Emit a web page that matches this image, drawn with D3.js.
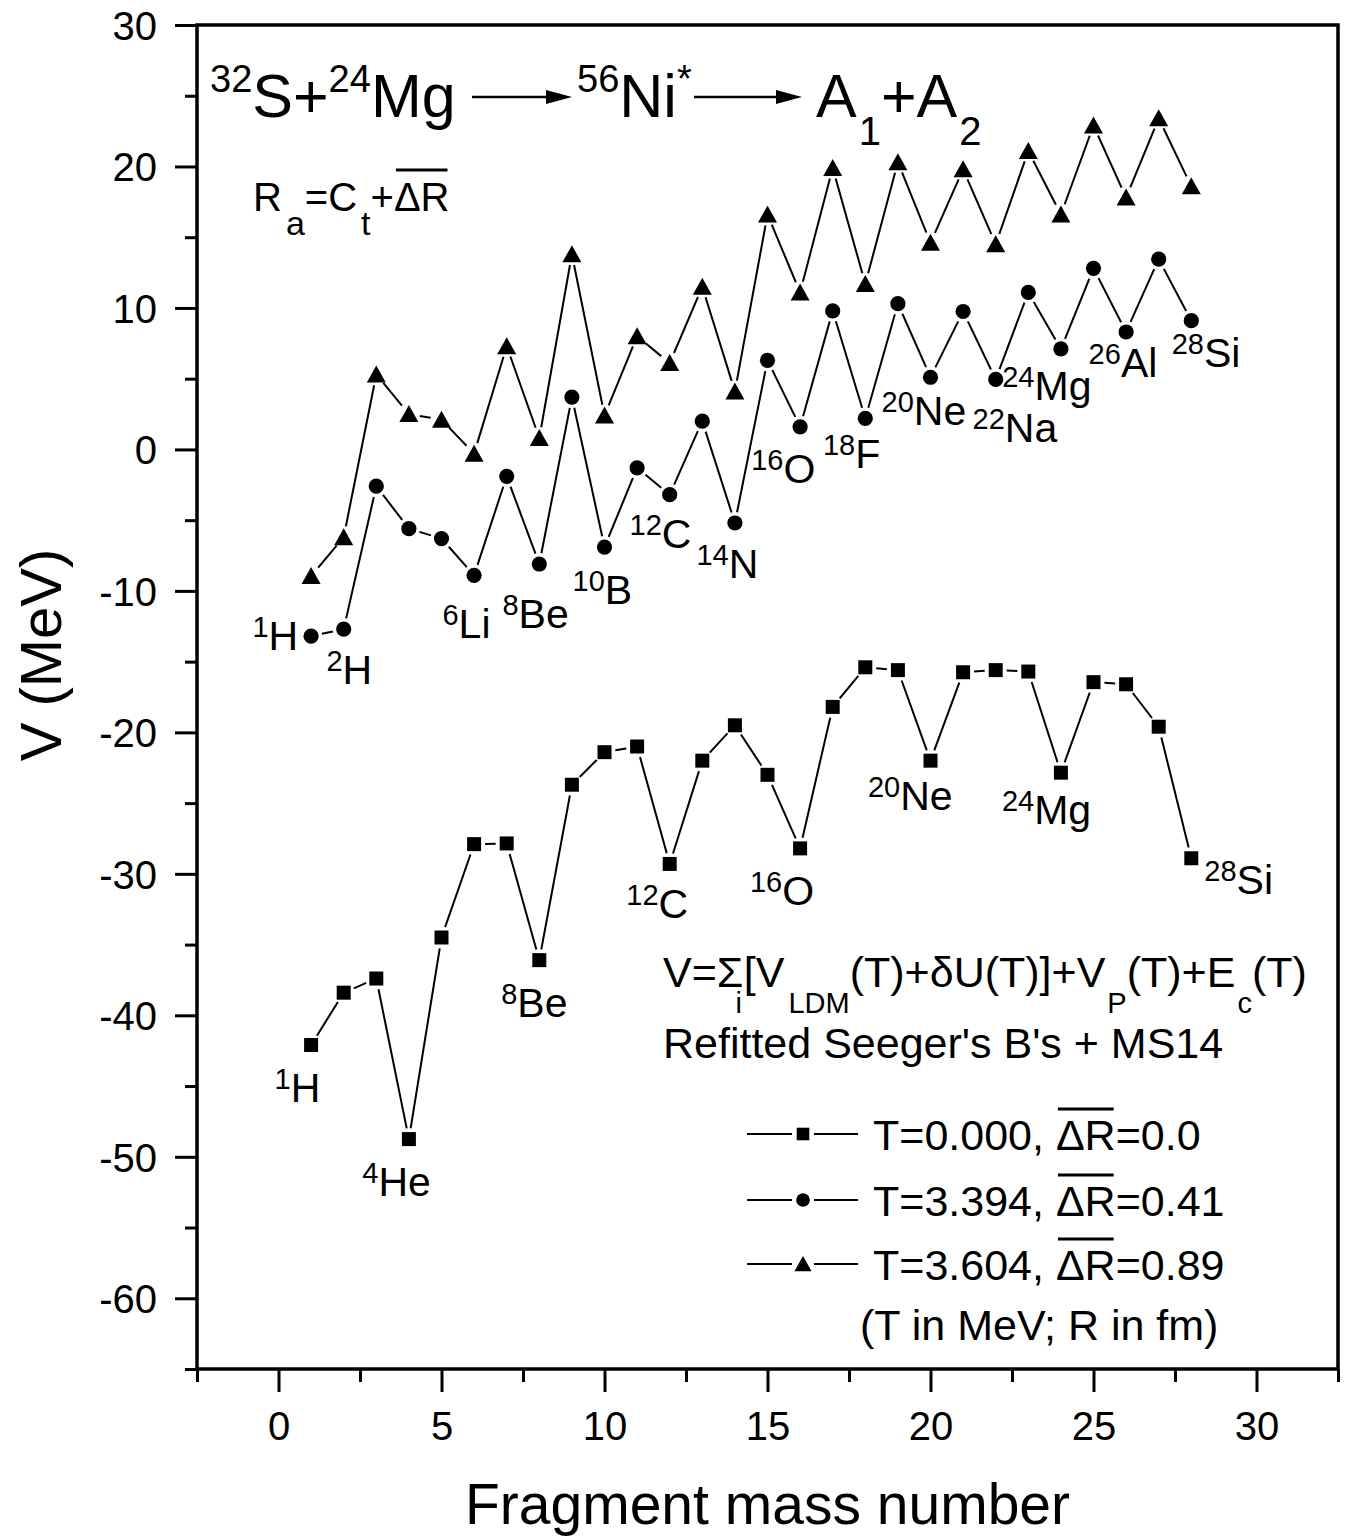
<!DOCTYPE html>
<html><head><meta charset="utf-8">
<script src="https://cdn.jsdelivr.net/npm/d3@7"></script>
<style>
body{margin:0;background:#fff}
svg{display:block}
text{font-family:"Liberation Sans",Arial,Helvetica,sans-serif;fill:#000}
</style>
</head><body>
<svg id="chart" width="1348" height="1540"></svg>
<script>
// ---------------- DATA ----------------
const massNumbers = [1,2,3,4,5,6,7,8,9,10,11,12,13,14,15,16,17,18,19,20,21,22,23,24,25,26,27,28];
// T = 0.000 MeV, mean dR = 0.0 fm (squares)
const vT0000 = [-42.1,-38.4,-37.4,-48.75,-34.5,-27.9,-27.85,-36.1,-23.7,-21.4,-21.0,-29.3,-22.0,-19.5,
                -23.0,-28.2,-18.2,-15.4,-15.6,-22.0,-15.75,-15.6,-15.7,-22.85,-16.45,-16.6,-19.6,-28.9];
// T = 3.394 MeV, mean dR = 0.41 fm (circles)
const vT3394 = [-13.2,-12.7,-2.6,-5.6,-6.3,-8.9,-1.9,-8.1,3.7,-6.9,-1.3,-3.2,2.0,-5.2,
                6.3,1.6,9.8,2.2,10.3,5.1,9.75,4.95,11.1,7.1,12.8,8.3,13.45,9.1];
// T = 3.604 MeV, mean dR = 0.89 fm (triangles)
const vT3604 = [-8.95,-6.2,5.3,2.5,2.1,-0.3,7.3,0.8,13.8,2.4,8.0,6.1,11.5,4.1,
                16.6,11.1,19.9,11.7,20.3,14.6,19.8,14.5,21.1,16.6,22.9,17.8,23.4,18.6];
const seriesLabels = ["T=0.000, ", "T=3.394, ", "T=3.604, "];
const seriesDR = ["=0.0", "=0.41", "=0.89"];
const seriesSymbols = ["square", "circle", "triangle"];
const xMajorTicks = [0,5,10,15,20,25,30];
const xMinorTicks = [-2.5,2.5,7.5,12.5,17.5,22.5,27.5,32.5];
const yMajorTicks = [-60,-50,-40,-30,-20,-10,0,10,20,30];
const yMinorTicks = [-65,-55,-45,-35,-25,-15,-5,5,15,25];
const xTitle = "Fragment mass number";
const yTitle = "V (MeV)";
// isotope annotations (superscript, element) anchored in data units
const upperLabels = [
  ["1","H",-0.8,-14.2],["2","H",1.47,-16.6],["6","Li",5.03,-13.3],["8","Be",6.87,-12.6],
  ["10","B",9.02,-10.9],["12","C",10.77,-7.0],["14","N",12.82,-9.1],["16","O",14.5,-2.4],
  ["18","F",16.7,-1.3],["20","Ne",18.5,1.7],["22","Na",21.29,0.5],["24","Mg",22.2,3.5],
  ["26","Al",24.85,5.1],["28","Si",27.4,5.8]
];
const lowerLabels = [
  ["1","H",-0.12,-46.1],["4","He",2.57,-52.8],["8","Be",6.83,-40.1],["12","C",10.67,-33.1],
  ["16","O",14.46,-32.2],["20","Ne",18.08,-25.5],["24","Mg",22.19,-26.5],["28","Si",28.4,-31.4]
];

// ---------------- LAYOUT ----------------
const svg = d3.select("#chart");
const L = 197, R = 1338, T = 25, B = 1369;
const x = d3.scaleLinear().domain([-2.5, 32.5]).range([L, R]);
const y = d3.scaleLinear().domain([-65, 30]).range([B, T]);
const fmt = d => String(d);

// axes
const gx = svg.append("g").attr("transform", `translate(0,${B})`)
  .call(d3.axisBottom(x).tickValues(xMajorTicks).tickSize(23).tickPadding(20).tickFormat(fmt));
const gxm = svg.append("g").attr("transform", `translate(0,${B})`)
  .call(d3.axisBottom(x).tickValues(xMinorTicks).tickSize(13).tickFormat(""));
const gy = svg.append("g").attr("transform", `translate(${L},0)`)
  .call(d3.axisLeft(y).tickValues(yMajorTicks).tickSize(22).tickPadding(18).tickFormat(fmt));
const gym = svg.append("g").attr("transform", `translate(${L},0)`)
  .call(d3.axisLeft(y).tickValues(yMinorTicks).tickSize(12).tickFormat(""));
[gx,gxm,gy,gym].forEach(g => {
  g.select(".domain").remove();
  g.selectAll(".tick line").attr("stroke","#000").attr("stroke-width",3);
  g.selectAll(".tick text").attr("font-size",40).attr("font-family","'Liberation Sans',Arial,sans-serif").attr("fill","#000");
});
gx.selectAll(".tick text").attr("dy","0.71em");
gy.selectAll(".tick text").attr("dy","0.36em");

svg.append("rect").attr("x",L).attr("y",T).attr("width",R-L).attr("height",B-T)
  .attr("fill","none").attr("stroke","#000").attr("stroke-width",3.5);

// axis titles
svg.append("text").attr("x",(L+R)/2).attr("y",1524).attr("text-anchor","middle")
  .attr("font-size",57).text(xTitle);
svg.append("text").attr("transform","translate(61,655) rotate(-90)").attr("text-anchor","middle")
  .attr("font-size",58).text(yTitle);

// ---------------- SERIES ----------------
const GAP = 11;
const lineGen = d3.line();
function symbolPath(kind){
  if(kind==="square") return "M-7,-7H7V7H-7Z";
  if(kind==="circle") return d3.symbol(d3.symbolCircle, Math.PI*7.6*7.6)();
  return "M0,-9L9.5,8L-9.5,8Z";
}
function drawSeries(values, kind){
  const g = svg.append("g");
  const pts = massNumbers.map((m,i)=>[x(m), y(values[i])]);
  const segs = [];
  for(let i=0;i<pts.length-1;i++){
    const [x0,y0]=pts[i],[x1,y1]=pts[i+1];
    const dx=x1-x0, dy=y1-y0, len=Math.hypot(dx,dy);
    if(len<=2*GAP+1) continue;
    const ux=dx/len, uy=dy/len;
    segs.push([[x0+ux*GAP,y0+uy*GAP],[x1-ux*GAP,y1-uy*GAP]]);
  }
  g.selectAll("path.seg").data(segs).join("path").attr("class","seg")
    .attr("d",lineGen).attr("fill","none").attr("stroke","#000").attr("stroke-width",2);
  g.selectAll("path.mk").data(pts).join("path").attr("class","mk")
    .attr("transform",d=>`translate(${d[0]},${d[1]})`).attr("d",symbolPath(kind)).attr("fill","#000");
}
drawSeries(vT0000,"square");
drawSeries(vT3394,"circle");
drawSeries(vT3604,"triangle");

// ---------------- ANNOTATIONS ----------------
function isotope(lab){
  const t = svg.append("text").attr("x",x(lab[2])).attr("y",y(lab[3])).attr("font-size",41);
  t.append("tspan").attr("font-size",29).attr("dy",-13).text(lab[0]);
  t.append("tspan").attr("font-size",41).attr("dy",13).text(lab[1]);
}
upperLabels.forEach(isotope);
lowerLabels.forEach(isotope);

// reaction title
function arrow(x0,x1,yy){
  svg.append("line").attr("x1",x0).attr("x2",x1-18).attr("y1",yy).attr("y2",yy).attr("stroke","#000").attr("stroke-width",2.5);
  svg.append("path").attr("d",`M${x1},${yy}L${x1-26},${yy-7}L${x1-26},${yy+7}Z`).attr("fill","#000");
}
{
  const t = svg.append("text").attr("x",210).attr("y",117).attr("font-size",61);
  t.append("tspan").attr("font-size",38).attr("dy",-25).text("32");
  t.append("tspan").attr("dy",25).text("S+");
  t.append("tspan").attr("font-size",38).attr("dy",-25).text("24");
  t.append("tspan").attr("dy",25).text("Mg");
  arrow(472,572,97);
  const t2 = svg.append("text").attr("x",577).attr("y",117).attr("font-size",61);
  t2.append("tspan").attr("font-size",38).attr("dy",-25).text("56");
  t2.append("tspan").attr("dy",25).text("Ni");
  t2.append("tspan").attr("font-size",38).attr("dy",-25).text("*");
  arrow(694,802,97);
  const t3 = svg.append("text").attr("x",816).attr("y",117).attr("font-size",61);
  t3.append("tspan").text("A");
  t3.append("tspan").attr("font-size",40).attr("dx",2).attr("dy",28).text("1");
  t3.append("tspan").attr("dy",-28).text("+A");
  t3.append("tspan").attr("font-size",40).attr("dx",2).attr("dy",28).text("2");
}
// overline helper
function overline(tspan, yy){
  const bb = tspan.node().getBBox();
  svg.append("line").attr("x1",bb.x+2).attr("x2",bb.x+bb.width-2).attr("y1",yy).attr("y2",yy)
    .attr("stroke","#000").attr("stroke-width",3);
}
// R_a = C_t + mean dR
{
  const t = svg.append("text").attr("x",253).attr("y",211).attr("font-size",40);
  t.append("tspan").text("R");
  t.append("tspan").attr("font-size",34).attr("dx",4).attr("dy",24).text("a");
  t.append("tspan").attr("dy",-24).text("=C");
  t.append("tspan").attr("font-size",34).attr("dx",4).attr("dy",24).text("t");
  t.append("tspan").attr("dy",-24).text("+");
  const dr = t.append("tspan").text("ΔR");
  overline(dr, 170);
}
// formula
{
  const t = svg.append("text").attr("x",663).attr("y",987).attr("font-size",43);
  t.append("tspan").text("V=Σ");
  t.append("tspan").attr("font-size",29).attr("dx",-8).attr("dy",26).text("i");
  t.append("tspan").attr("dx",2).attr("dy",-26).text("[V");
  t.append("tspan").attr("font-size",29).attr("dx",4).attr("dy",26).text("LDM");
  t.append("tspan").attr("dy",-26).text("(T)+δU(T)]+V");
  t.append("tspan").attr("font-size",29).attr("dx",2).attr("dy",26).text("P");
  t.append("tspan").attr("dy",-26).text("(T)+E");
  t.append("tspan").attr("font-size",29).attr("dx",2).attr("dy",26).text("c");
  t.append("tspan").attr("dy",-26).text("(T)");
  svg.append("text").attr("x",663).attr("y",1058).attr("font-size",43).text("Refitted Seeger's B's + MS14");
}
// legend
const legendRows = [1134, 1200, 1264];
seriesSymbols.forEach((kind,i)=>{
  const cy = legendRows[i], cx = 803;
  const segs = [[[747,cy],[cx-GAP,cy]],[[cx+GAP,cy],[858,cy]]];
  svg.selectAll(null).data(segs).join("path").attr("d",lineGen).attr("stroke","#000").attr("stroke-width",2).attr("fill","none");
  svg.append("path").attr("transform",`translate(${cx},${cy}) scale(0.9)`).attr("d",symbolPath(kind)).attr("fill","#000");
  const t = svg.append("text").attr("x",873).attr("y",cy+16).attr("font-size",43);
  t.append("tspan").text(seriesLabels[i]);
  const dr = t.append("tspan").text("ΔR");
  t.append("tspan").text(seriesDR[i]);
  overline(dr, cy-25);
});
svg.append("text").attr("x",860).attr("y",1340).attr("font-size",43).text("(T in MeV; R in fm)");
</script>
</body></html>
